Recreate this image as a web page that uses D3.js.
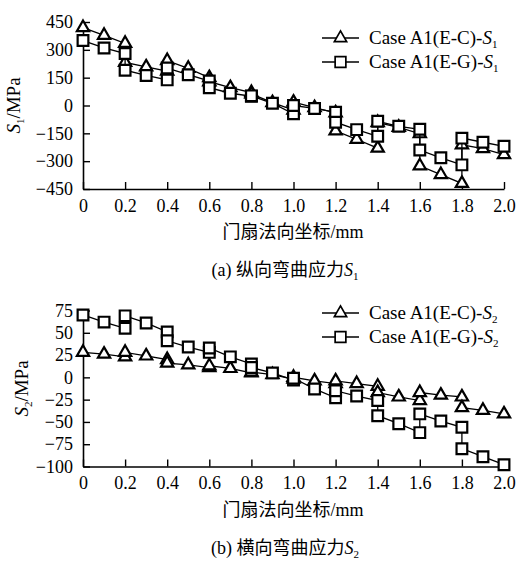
<!DOCTYPE html>
<html>
<head>
<meta charset="utf-8">
<script src="https://cdn.jsdelivr.net/npm/d3@7"></script>
<style>
body { margin: 0; background: #fff; }
svg text { font-family: "Liberation Serif", "Times New Roman", serif; fill: #000; }
.cjk { font-family: "Noto Sans CJK SC", sans-serif; }
</style>
</head>
<body>
<svg id="chart" width="518" height="563"></svg>
<script>
// x positions (segments of 0.2, each with a jump at the shared end point)
var xPos = [0, 0.1, 0.2, 0.2, 0.3, 0.4, 0.4, 0.5, 0.6, 0.6, 0.7, 0.8, 0.8, 0.9, 1.0,
            1.0, 1.1, 1.2, 1.2, 1.3, 1.4, 1.4, 1.5, 1.6, 1.6, 1.7, 1.8, 1.8, 1.9, 2.0];

// S1 values (MPa)
var s1EC = [420, 378, 335, 232, 208, 185, 242, 200, 150, 128, 96, 70, 62, 15, -25,
            18, -12, -40, -137, -182, -230, -92, -118, -152, -325, -372, -420, -212, -232, -265];
var s1EG = [350, 310, 280, 190, 162, 138, 202, 166, 132, 96, 66, 50, 52, 12, -45,
            0, -16, -36, -90, -130, -166, -85, -112, -128, -240, -282, -320, -176, -198, -220];

// S2 values (MPa)
var s2EC = [28, 26, 23, 28, 24, 20, 16, 14, 11, 13, 10, 5, 6, 3, -2,
            0, -4, -7, -4, -7, -10, -17, -22, -26, -17, -20, -22, -34, -37, -41];
var s2EG = [70, 62, 55, 69, 61, 51, 41, 34, 28, 33, 23, 15, 11, 5, -3,
            -1, -13, -23, -15, -21, -26, -43, -52, -62, -41, -49, -56, -80, -89, -98];

var xTicks = [0, 0.2, 0.4, 0.6, 0.8, 1.0, 1.2, 1.4, 1.6, 1.8, 2.0];
var y1Ticks = [-450, -300, -150, 0, 150, 300, 450];
var y2Ticks = [-100, -75, -50, -25, 0, 25, 50, 75];

var svg = d3.select("#chart");

var x = d3.scaleLinear().domain([0, 2]).range([83, 504]);

function subS(sel, idx, size) {
  // italic S with a small subscript digit
  sel.append("tspan").attr("font-style", "italic").text("S");
  sel.append("tspan").attr("font-size", size).attr("dy", 4).text(idx);
}

function drawPanel(cfg) {
  var y = d3.scaleLinear().domain(cfg.domain).range(cfg.range);
  var g = svg.append("g");

  // x axis, ticks point inward
  var xa = g.append("g")
    .attr("transform", "translate(0," + cfg.range[0] + ")")
    .call(d3.axisBottom(x).tickValues(xTicks).tickSizeInner(-7).tickSizeOuter(0)
      .tickPadding(10).tickFormat(function(d) { return d === 0 ? "0" : d3.format(".1f")(d); }));
  xa.selectAll("text").attr("font-size", 18).attr("dy", "0.72em")
    .style("font-family", "Liberation Serif");

  var ya = g.append("g")
    .attr("transform", "translate(83,0)")
    .call(d3.axisLeft(y).tickValues(cfg.ticks).tickSizeInner(-7).tickSizeOuter(0)
      .tickPadding(10).tickFormat(function(d) { return d < 0 ? "\u2212" + Math.abs(d) : d; }));
  ya.selectAll("text").attr("font-size", 18).style("font-family", "Liberation Serif");

  g.selectAll(".domain").attr("stroke", "#000").attr("stroke-width", 1.6);
  g.selectAll(".tick line").attr("stroke", "#000").attr("stroke-width", 1.4);

  var line = d3.line()
    .x(function(d) { return x(d[0]); })
    .y(function(d) { return y(d[1]); });

  cfg.series.forEach(function(s) {
    var pts = xPos.map(function(v, i) { return [v, s.values[i]]; });
    g.append("path")
      .datum(pts)
      .attr("fill", "none")
      .attr("stroke", "#000")
      .attr("stroke-width", 1.3)
      .attr("d", line);
    g.selectAll(null)
      .data(pts)
      .enter().append("path")
      .attr("transform", function(d) { return "translate(" + x(d[0]) + "," + y(d[1]) + ")"; })
      .attr("d", s.symbol)
      .attr("fill", "#fff")
      .attr("stroke", "#000")
      .attr("stroke-width", 2.2);
  });

  // y title
  var yt = g.append("text")
    .attr("transform", "translate(" + cfg.yTitleX + "," + ((cfg.range[0] + cfg.range[1]) / 2) + ") rotate(-90)")
    .attr("text-anchor", "middle")
    .attr("font-size", 19);
  subS(yt, cfg.idx, 11);
  yt.append("tspan").attr("dy", -4).text("/MPa");

  // x title
  g.append("text")
    .attr("x", 293).attr("y", cfg.range[0] + 49)
    .attr("text-anchor", "middle")
    .attr("font-size", 18)
    .call(function(t) {
      t.append("tspan").attr("class", "cjk").text("门扇法向坐标");
      t.append("tspan").text("/mm");
    });

  // caption
  var cap = g.append("text")
    .attr("x", 285).attr("y", cfg.range[0] + 87)
    .attr("text-anchor", "middle")
    .attr("font-size", 18);
  cap.append("tspan").text(cfg.letter + " ");
  cap.append("tspan").attr("class", "cjk").text(cfg.capText);
  subS(cap, cfg.idx, 11);

  // legend
  cfg.series.forEach(function(s, i) {
    var ly = cfg.legendY + i * 24;
    g.append("line").attr("x1", 322).attr("x2", 359).attr("y1", ly).attr("y2", ly)
      .attr("stroke", "#000").attr("stroke-width", 1.3);
    g.append("path").attr("transform", "translate(340.5," + ly + ")")
      .attr("d", s.symbol).attr("fill", "#fff").attr("stroke", "#000").attr("stroke-width", 1.7);
    var lt = g.append("text").attr("x", 369).attr("y", ly + 6).attr("font-size", 19);
    lt.append("tspan").text(s.name + "-");
    subS(lt, cfg.idx, 11);
  });
}

var tri = d3.symbol().type(d3.symbolTriangle).size(65)();
var sq = d3.symbol().type(d3.symbolSquare).size(115)();

drawPanel({
  domain: [-450, 450], range: [189, 22], ticks: y1Ticks, idx: "1",
  yTitleX: 20, letter: "(a)", capText: "纵向弯曲应力", legendY: 38,
  series: [
    { name: "Case A1(E-C)", values: s1EC, symbol: tri },
    { name: "Case A1(E-G)", values: s1EG, symbol: sq }
  ]
});

drawPanel({
  domain: [-100, 75], range: [466.5, 310.5], ticks: y2Ticks, idx: "2",
  yTitleX: 28, letter: "(b)", capText: "横向弯曲应力", legendY: 313,
  series: [
    { name: "Case A1(E-C)", values: s2EC, symbol: tri },
    { name: "Case A1(E-G)", values: s2EG, symbol: sq }
  ]
});
</script>
</body>
</html>
